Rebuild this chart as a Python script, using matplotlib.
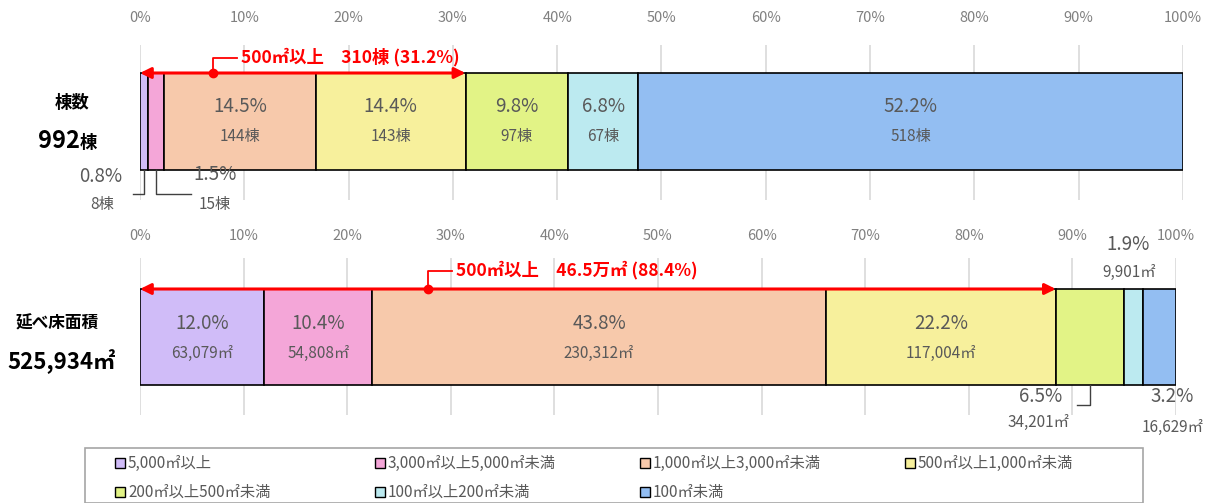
import matplotlib
matplotlib.use("Agg")
import matplotlib.pyplot as plt
import numpy as np
from matplotlib.patches import Rectangle

plt.rcParams['font.family'] = ['Noto Sans CJK JP', 'DejaVu Sans']

# データ
categories = ["5,000㎡以上", "3,000㎡以上5,000㎡未満", "1,000㎡以上3,000㎡未満",
              "500㎡以上1,000㎡未満", "200㎡以上500㎡未満", "100㎡以上200㎡未満", "100㎡未満"]
colors = ["#D0BCF8", "#F4A6D8", "#F7C9AB", "#F7F09C", "#E2F386", "#BCEAF0", "#93BEF2"]
counts = [8, 15, 144, 143, 97, 67, 518]
count_pct = [0.8, 1.5, 14.5, 14.4, 9.8, 6.8, 52.2]
areas = [63079, 54808, 230312, 117004, 34201, 9901, 16629]
area_pct = [12.0, 10.4, 43.8, 22.2, 6.5, 1.9, 3.2]
big_count_pct = 31.2
big_area_pct = 88.4
ticks = np.arange(0, 101, 10)

W, H = 1212, 503
fig = plt.figure(figsize=(W / 100, H / 100), dpi=100)

GRAY = "#595959"
TICKC = "#808080"
RED = "#FF0000"


def make_ax(x0, x1, y0, y1):
    # 軸はピクセル座標 (y下向き) で配置
    ax = fig.add_axes([x0 / W, 1 - y1 / H, (x1 - x0) / W, (y1 - y0) / H])
    ax.set_xlim(0, 100)
    ax.set_ylim(y1, y0)
    ax.axis("off")
    return ax


def draw_bar(ax, values, bar_top, bar_bot, grid_top, grid_bot, tick_y):
    share = np.array(values) / np.sum(values) * 100
    left = np.concatenate([[0], np.cumsum(share)[:-1]])
    ax.vlines(ticks, grid_top, grid_bot, color="#D9D9D9", lw=1.2, zorder=0)
    for t in ticks:
        ax.text(t, tick_y, f"{t}%", ha="center", va="center", fontsize=10.5, color=TICKC)
    ax.barh((bar_top + bar_bot) / 2, share, left=left, height=bar_bot - bar_top,
            color=colors, edgecolor="black", linewidth=1.2, zorder=2)
    return share, left


def red_arrow(ax, end, y, dot_x, top_y, text):
    ax.annotate("", xy=(0, y), xytext=(end, y),
                arrowprops=dict(arrowstyle="<|-|>", color=RED, lw=2.2, mutation_scale=16,
                                shrinkA=0, shrinkB=0), zorder=5)
    ax.plot([dot_x], [y], "o", color=RED, ms=6, zorder=6)
    ax.plot([dot_x, dot_x, dot_x + 2.3], [y, top_y, top_y], color=RED, lw=1.3, zorder=6)
    ax.text(dot_x + 2.7, top_y - 1, text, ha="left", va="center",
            fontsize=12.5, fontweight="bold", color=RED)


# ---- 棟数 ----
ax1 = make_ax(140, 1183, 0, 240)
s1, l1 = draw_bar(ax1, counts, 73, 170, 45, 200, 18)
for i in range(2, 7):
    c = l1[i] + s1[i] / 2
    ax1.text(c, 106, f"{count_pct[i]}%", ha="center", va="center", fontsize=13.5, color=GRAY, zorder=3)
    ax1.text(c, 137, f"{counts[i]}棟", ha="center", va="center", fontsize=11, color=GRAY, zorder=3)
# 小さい区分の引出線
c0 = l1[0] + s1[0] / 2
c1 = l1[1] + s1[1] / 2
ax1.plot([c0, c0, -0.7], [170, 194, 194], color="#404040", lw=1, zorder=3, clip_on=False)
ax1.plot([c1, c1, 4.9], [170, 194, 194], color="#404040", lw=1, zorder=3, clip_on=False)
ax1.text(-1.7, 176, f"{count_pct[0]}%", ha="right", va="center", fontsize=13.5, color=GRAY)
ax1.text(-3.6, 205, f"{counts[0]}棟", ha="center", va="center", fontsize=11, color=GRAY)
ax1.text(7.2, 174, f"{count_pct[1]}%", ha="center", va="center", fontsize=13.5, color=GRAY)
ax1.text(7.2, 205, f"{counts[1]}棟", ha="center", va="center", fontsize=11, color=GRAY)

red_arrow(ax1, big_count_pct, 73, 7.0, 58,
          f"500㎡以上　{sum(counts[:4])}棟 ({big_count_pct}%)")

# 左見出し
fig.text(72 / W, 1 - 103 / H, "棟数", ha="center", va="center", fontsize=12.5, fontweight="bold")
fig.text(80 / W, 1 - 141 / H, f"{sum(counts)}", ha="right", va="center", fontsize=17, fontweight="bold")
fig.text(80 / W, 1 - 143 / H, "棟", ha="left", va="center", fontsize=12.5, fontweight="bold")

# ---- 延べ床面積 ----
ax2 = make_ax(140, 1176, 225, 445)
s2, l2 = draw_bar(ax2, areas, 289, 385, 258, 415, 236)
for i in range(0, 4):
    c = l2[i] + s2[i] / 2
    ax2.text(c, 323, f"{area_pct[i]}%", ha="center", va="center", fontsize=13.5, color=GRAY, zorder=3)
    ax2.text(c, 353, f"{areas[i]:,}㎡", ha="center", va="center", fontsize=11, color=GRAY, zorder=3)
# 6.5%
c4 = l2[4] + s2[4] / 2
ax2.plot([c4, c4, 90.4], [385, 405, 405], color="#404040", lw=1, zorder=3)
ax2.text(86.9, 396, f"{area_pct[4]}%", ha="center", va="center", fontsize=13.5, color=GRAY)
ax2.text(86.7, 422, f"{areas[4]:,}㎡", ha="center", va="center", fontsize=11, color=GRAY)
# 1.9%
ax2.text(95.4, 244, f"{area_pct[5]}%", ha="center", va="center", fontsize=13.5, color=GRAY)
ax2.text(95.5, 272, f"{areas[5]:,}㎡", ha="center", va="center", fontsize=11, color=GRAY)
# 3.2%
ax2.text(99.6, 396, f"{area_pct[6]}%", ha="center", va="center", fontsize=13.5, color=GRAY)
ax2.text(102.7, 427, f"{areas[6]:,}㎡", ha="right", va="center", fontsize=11, color=GRAY)

red_arrow(ax2, big_area_pct, 289, 27.8, 271,
          f"500㎡以上　{sum(areas[:4]) / 10000:.1f}万㎡ ({big_area_pct}%)")

fig.text(57 / W, 1 - 324 / H, "延べ床面積", ha="center", va="center", fontsize=12, fontweight="bold")
fig.text(62 / W, 1 - 362 / H, f"{sum(areas):,}㎡", ha="center", va="center", fontsize=16, fontweight="bold")

# ---- 凡例 ----
fig.patches.append(Rectangle((85 / W, 0), (1143 - 85) / W, 1 - 448 / H, transform=fig.transFigure,
                             fill=False, edgecolor="#A6A6A6", lw=1.2))
leg_x = [115, 375, 640, 905]
leg_y = [463, 492]
for i, (name, col) in enumerate(zip(categories, colors)):
    px = leg_x[i % 4]
    py = leg_y[i // 4]
    fig.patches.append(Rectangle((px / W, 1 - (py + 5) / H), 10 / W, 10 / H, transform=fig.transFigure,
                                 facecolor=col, edgecolor="black", lw=1))
    fig.text((px + 13) / W, 1 - py / H, name, ha="left", va="center", fontsize=11, color=GRAY)

fig.savefig("out.png", dpi=100)
